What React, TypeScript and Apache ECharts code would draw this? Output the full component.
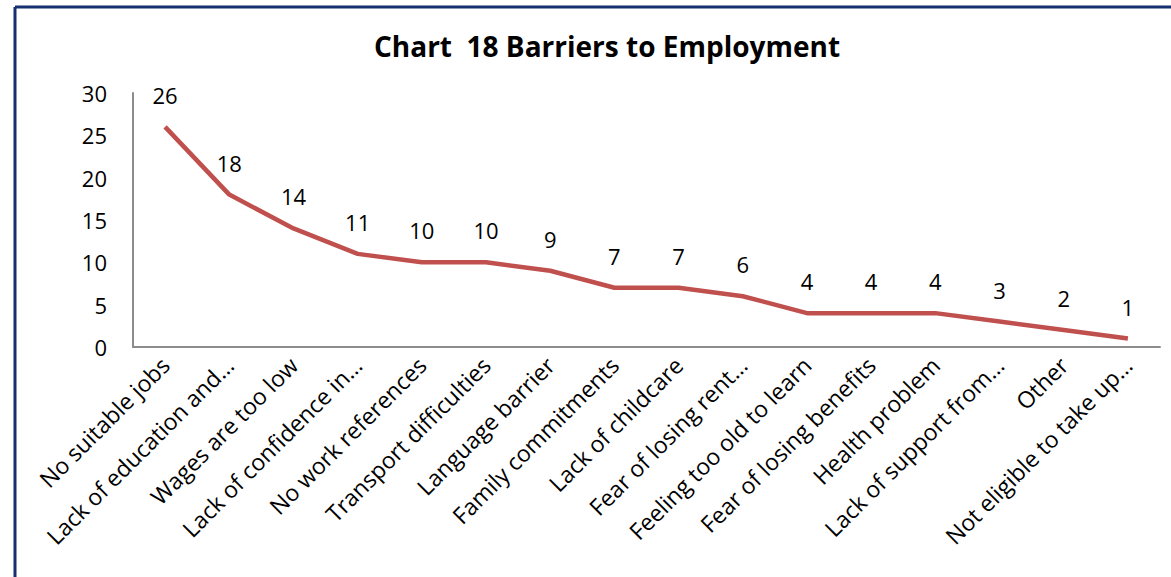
import React, { useEffect, useRef } from "react";
import * as echarts from "echarts";

const categories = [
  "No suitable jobs",
  "Lack of education and…",
  "Wages are too low",
  "Lack of confidence in…",
  "No work references",
  "Transport difficulties",
  "Language barrier",
  "Family commitments",
  "Lack of childcare",
  "Fear of losing rent…",
  "Feeling too old to learn",
  "Fear of losing benefits",
  "Health problem",
  "Lack of support from…",
  "Other",
  "Not eligible to take up…",
];
const values = [26, 18, 14, 11, 10, 10, 9, 7, 7, 6, 4, 4, 4, 3, 2, 1];
const title = "Chart  18 Barriers to Employment";

const FONT = "'Open Sans', Lato, sans-serif";

export default function App() {
  const ref = useRef<HTMLDivElement>(null);
  useEffect(() => {
    if (!ref.current) return;
    const chart = echarts.init(ref.current, null, { renderer: "svg" });
    chart.setOption({
      animation: false,
      backgroundColor: "#ffffff",
      title: {
        text: title,
        left: 602,
        textAlign: "center",
        top: 27,
        textStyle: { fontFamily: FONT, fontWeight: "bold", fontSize: 28, color: "#000" },
      },
      graphic: [
        { type: "line", shape: { x1: 15, y1: 7, x2: 1171, y2: 7 }, style: { stroke: "#15306e", lineWidth: 3 } },
        { type: "line", shape: { x1: 15, y1: 7, x2: 15, y2: 577 }, style: { stroke: "#15306e", lineWidth: 3 } },
      ],
      grid: { left: 133, right: 11, top: 93, bottom: 230, containLabel: false },
      xAxis: {
        type: "category",
        data: categories,
        boundaryGap: true,
        axisLine: { lineStyle: { color: "#8c8c8c", width: 2 } },
        axisTick: { show: false },
        axisLabel: {
          interval: 0,
          rotate: 45,
          margin: 14,
          fontFamily: FONT,
          fontSize: 23,
          color: "#000",
        },
      },
      yAxis: {
        type: "value",
        min: 0,
        max: 30,
        interval: 5,
        axisLine: { show: true, lineStyle: { color: "#8c8c8c", width: 2 } },
        axisTick: { show: false },
        splitLine: { show: false },
        axisLabel: { margin: 26, fontFamily: FONT, fontSize: 22, color: "#000" },
      },
      series: [
        {
          type: "line",
          data: values,
          showSymbol: true,
          showAllSymbol: true,
          symbol: "circle",
          symbolSize: 0,
          itemStyle: { color: "rgba(0,0,0,0)", borderWidth: 0 },
          lineStyle: { color: "#c0504d", width: 4.5 },
          label: {
            show: true,
            position: "top",
            distance: 21,
            fontFamily: FONT,
            fontSize: 22,
            color: "#000",
          },
        },
      ],
    });
    return () => chart.dispose();
  }, []);
  return (
    <div
      ref={ref}
      style={{ position: "absolute", left: 0, top: 0, width: 1171, height: 577 }}
    />
  );
}
